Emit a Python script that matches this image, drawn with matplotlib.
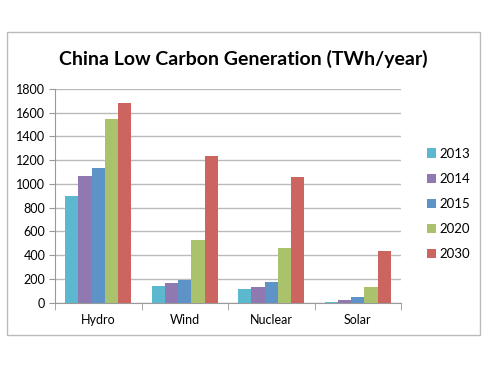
import numpy as np
import matplotlib
matplotlib.use("Agg")
import matplotlib.pyplot as plt
from matplotlib.patches import Rectangle

categorias = ["Hydro", "Wind", "Nuclear", "Solar"]
anios = ["2013", "2014", "2015", "2020", "2030"]
v2013 = [895, 143, 115, 8]
v2014 = [1067, 163, 135, 25]
v2015 = [1131, 191, 171, 45]
v2020 = [1544, 528, 460, 135]
v2030 = [1684, 1238, 1055, 438]
colores = ["#5BB8CF", "#9078B0", "#5E93C8", "#A9C26B", "#CC6460"]

plt.rcParams['font.family'] = ['Lato', 'DejaVu Sans']

fig = plt.figure(figsize=(5, 3.75), dpi=100)
ax = fig.add_axes([0.11, 0.193, 0.692, 0.57])

x = np.arange(len(categorias))
ancho = 0.153
series = [v2013, v2014, v2015, v2020, v2030]
for i, (serie, color, anio) in enumerate(zip(series, colores, anios)):
    ax.bar(x + (i - 2) * ancho, serie, ancho, color=color, label=anio, zorder=3)

ax.set_xlim(-0.5, 3.5)
ax.set_ylim(0, 1800)
ax.set_yticks(range(0, 1801, 200))
ax.set_xticks(x)
ax.set_xticklabels(categorias, fontsize=9)
ax.tick_params(axis='x', length=0, pad=8)
ax.tick_params(axis='y', labelsize=9, length=4, color="#999999", pad=3)
ax.set_xticks([-0.5, 0.5, 1.5, 2.5, 3.5], minor=True)
ax.tick_params(axis='x', which='minor', length=5, color="#999999")
ax.grid(axis='y', color="#BBBBBB", linewidth=1, zorder=0)
for lado in ("top", "right"):
    ax.spines[lado].set_visible(False)
ax.spines["left"].set_color("#999999")
ax.spines["bottom"].set_color("#999999")

fig.text(0.486, 0.843, "China Low Carbon Generation (TWh/year)",
         ha="center", va="center", fontsize=14, fontweight="bold")

fig.legend(loc="center left", bbox_to_anchor=(0.83, 0.456), frameon=False,
           fontsize=9.5, handlelength=0.7, handleheight=0.7, handletextpad=0.25,
           labelspacing=1.0)

fig.patches.append(Rectangle((0.014, 0.107), 0.946, 0.808, transform=fig.transFigure,
                             fill=False, edgecolor="#BBBBBB", linewidth=1))

fig.savefig("out.png", dpi=100)
